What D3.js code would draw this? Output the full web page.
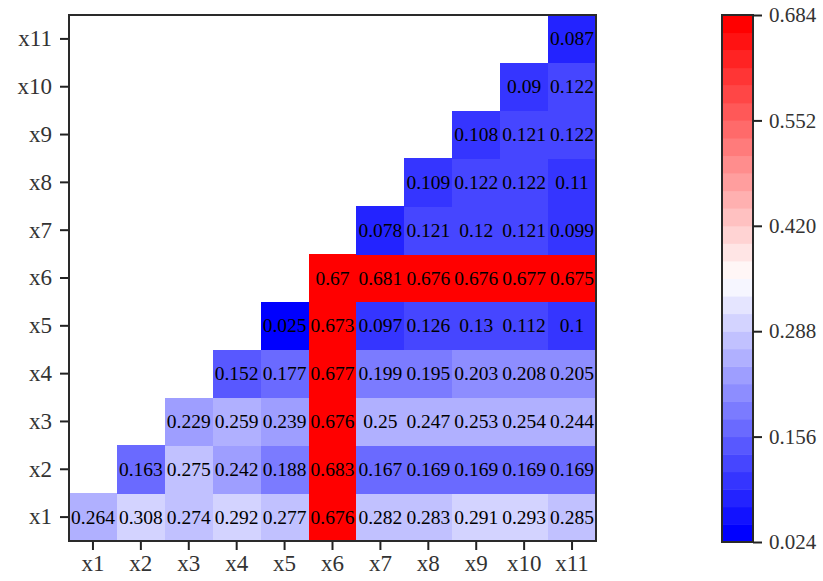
<!DOCTYPE html>
<html>
<head>
<meta charset="utf-8">
<script src="https://cdn.jsdelivr.net/npm/d3@7"></script>
<style>
  html, body { margin: 0; padding: 0; background: #fff; }
  svg { display: block; }
  text { font-family: "Liberation Serif", "Times New Roman", serif; }
</style>
</head>
<body>
<svg id="chart" width="823" height="581"></svg>
<script>
// ---- data ----
const categories = ["x1","x2","x3","x4","x5","x6","x7","x8","x9","x10","x11"];
// each row i holds values for columns i..x11 (upper triangle)
const rowX1  = [0.264, 0.308, 0.274, 0.292, 0.277, 0.676, 0.282, 0.283, 0.291, 0.293, 0.285];
const rowX2  = [0.163, 0.275, 0.242, 0.188, 0.683, 0.167, 0.169, 0.169, 0.169, 0.169];
const rowX3  = [0.229, 0.259, 0.239, 0.676, 0.25, 0.247, 0.253, 0.254, 0.244];
const rowX4  = [0.152, 0.177, 0.677, 0.199, 0.195, 0.203, 0.208, 0.205];
const rowX5  = [0.025, 0.673, 0.097, 0.126, 0.13, 0.112, 0.1];
const rowX6  = [0.67, 0.681, 0.676, 0.676, 0.677, 0.675];
const rowX7  = [0.078, 0.121, 0.12, 0.121, 0.099];
const rowX8  = [0.109, 0.122, 0.122, 0.11];
const rowX9  = [0.108, 0.121, 0.122];
const rowX10 = [0.09, 0.122];
const rowX11 = [0.087];
const rows = [rowX1, rowX2, rowX3, rowX4, rowX5, rowX6, rowX7, rowX8, rowX9, rowX10, rowX11];
const colorbarTicks = [0.024, 0.156, 0.288, 0.420, 0.552, 0.684];
const colorMin = 0.024, colorMax = 0.684, nLevels = 30;

// build cell table
const cells = [];
rows.forEach((vals, i) => {
  vals.forEach((v, k) => {
    cells.push({ row: categories[i], col: categories[i + k], value: v });
  });
});

// ---- layout ----
const svg = d3.select("#chart");
const plot = { left: 69, top: 15, width: 527, height: 526 };
const cbar = { left: 722, top: 15, width: 31, height: 527 };

const x = d3.scaleBand().domain(categories).range([plot.left, plot.left + plot.width]).padding(0);
const y = d3.scaleBand().domain(categories).range([plot.top + plot.height, plot.top]).padding(0);

// discrete blue-white-red color map
const cont = d3.scaleLinear().domain([0, 0.5, 1]).range(["#0000ff", "#ffffff", "#ff0000"]).interpolate(d3.interpolateRgb);
const step = (colorMax - colorMin) / nLevels;
function levelIndex(v) {
  return Math.max(0, Math.min(nLevels - 1, Math.floor((v - colorMin) / step + 1e-9)));
}
function levelColor(i) { return cont(i / (nLevels - 1)); }
const color = v => levelColor(levelIndex(v));

// ---- cells ----
svg.append("g").selectAll("rect").data(cells).join("rect")
  .attr("x", d => x(d.col))
  .attr("y", d => y(d.row))
  .attr("width", x.bandwidth() + 0.5)
  .attr("height", y.bandwidth() + 0.5)
  .attr("fill", d => color(d.value))
  .attr("shape-rendering", "crispEdges");

svg.append("g").selectAll("text").data(cells).join("text")
  .attr("x", d => x(d.col) + x.bandwidth() / 2)
  .attr("y", d => y(d.row) + y.bandwidth() / 2)
  .attr("text-anchor", "middle")
  .attr("dominant-baseline", "central")
  .attr("font-size", 19.5)
  .attr("fill", "#000")
  .text(d => String(d.value));

// ---- axes ----
const xAxis = d3.axisBottom(x).tickSize(9).tickPadding(5);
const yAxis = d3.axisLeft(y).tickSize(9).tickPadding(8);

const gx = svg.append("g").attr("transform", `translate(0,${plot.top + plot.height})`).call(xAxis);
const gy = svg.append("g").attr("transform", `translate(${plot.left},0)`).call(yAxis);
[gx, gy].forEach(g => {
  g.select(".domain").remove();
  g.selectAll(".tick line").attr("stroke", "#222").attr("stroke-width", 2);
  g.selectAll(".tick text").attr("font-size", 23).attr("fill", "#333")
    .style("font-family", '"Liberation Serif", serif');
});

// frame
svg.append("rect")
  .attr("x", plot.left).attr("y", plot.top)
  .attr("width", plot.width).attr("height", plot.height)
  .attr("fill", "none").attr("stroke", "#2a2a2a").attr("stroke-width", 2);

// ---- colorbar ----
const cy = d3.scaleLinear().domain([colorMin, colorMax]).range([cbar.top + cbar.height, cbar.top]);
const levels = d3.range(nLevels);
svg.append("g").selectAll("rect").data(levels).join("rect")
  .attr("x", cbar.left)
  .attr("y", i => cy(colorMin + (i + 1) * step))
  .attr("width", cbar.width)
  .attr("height", i => cy(colorMin + i * step) - cy(colorMin + (i + 1) * step) + 0.5)
  .attr("fill", i => levelColor(i));

svg.append("rect")
  .attr("x", cbar.left).attr("y", cbar.top)
  .attr("width", cbar.width).attr("height", cbar.height)
  .attr("fill", "none").attr("stroke", "#2a2a2a").attr("stroke-width", 2);

const cAxis = d3.axisRight(cy).tickValues(colorbarTicks).tickFormat(d3.format(".3f")).tickSize(9).tickPadding(7);
const gc = svg.append("g").attr("transform", `translate(${cbar.left + cbar.width},0)`).call(cAxis);
gc.select(".domain").remove();
gc.selectAll(".tick line").attr("stroke", "#222").attr("stroke-width", 2);
gc.selectAll(".tick text").attr("font-size", 21).attr("fill", "#333")
  .style("font-family", '"Liberation Serif", serif');
</script>
</body>
</html>
